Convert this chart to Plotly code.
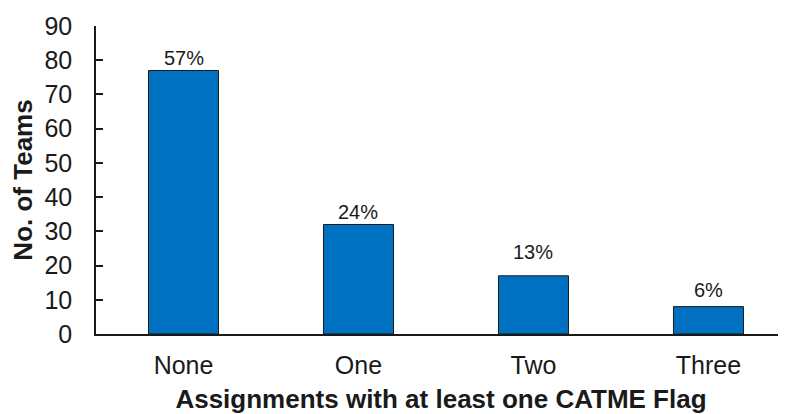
import plotly.graph_objects as go

categories = ["None", "One", "Two", "Three"]
teams = [77, 32, 17, 8]
pct_labels = ["57%", "24%", "13%", "6%"]
label_gap = [12, 12, 24, 17]

FONT = "Liberation Sans, Arial, sans-serif"

# page body has an 8px default margin, so the figure is sized to fit the window after it
fig = go.Figure()
fig.add_trace(go.Bar(
    x=categories, y=teams, width=0.4,
    marker=dict(color="#0070C0", line=dict(color="#1a1a1a", width=1)),
    showlegend=False, hoverinfo="skip",
))
for c, v, t, g in zip(categories, teams, pct_labels, label_gap):
    fig.add_annotation(x=c, y=v, text=t, showarrow=False, yshift=g,
                       yanchor="middle", font=dict(size=20, color="#1a1a1a", family=FONT))

fig.update_layout(
    width=778, height=406,
    margin=dict(l=88, r=0, t=18, b=80),
    plot_bgcolor="white", paper_bgcolor="white",
    font=dict(family=FONT, color="#1a1a1a"),
    xaxis=dict(range=[-0.5, 3.443], showline=True, linecolor="#1a1a1a", linewidth=1.5,
               ticks="", tickfont=dict(size=25), showgrid=False, automargin=False,
               ticklabelstandoff=8,
               title=dict(text="<b>Assignments with at least one CATME Flag</b>",
                          font=dict(size=26), standoff=14)),
    yaxis=dict(range=[0, 90], dtick=10, showline=True, linecolor="#1a1a1a", linewidth=1.5,
               ticks="inside", ticklen=7, tickcolor="#1a1a1a", tickwidth=1.5,
               tickfont=dict(size=25), showgrid=False, zeroline=False, automargin=False,
               ticklabelstandoff=17,
               title=dict(text="<b>No. of Teams</b>", font=dict(size=26), standoff=8)),
)
fig.write_html("out.html")
